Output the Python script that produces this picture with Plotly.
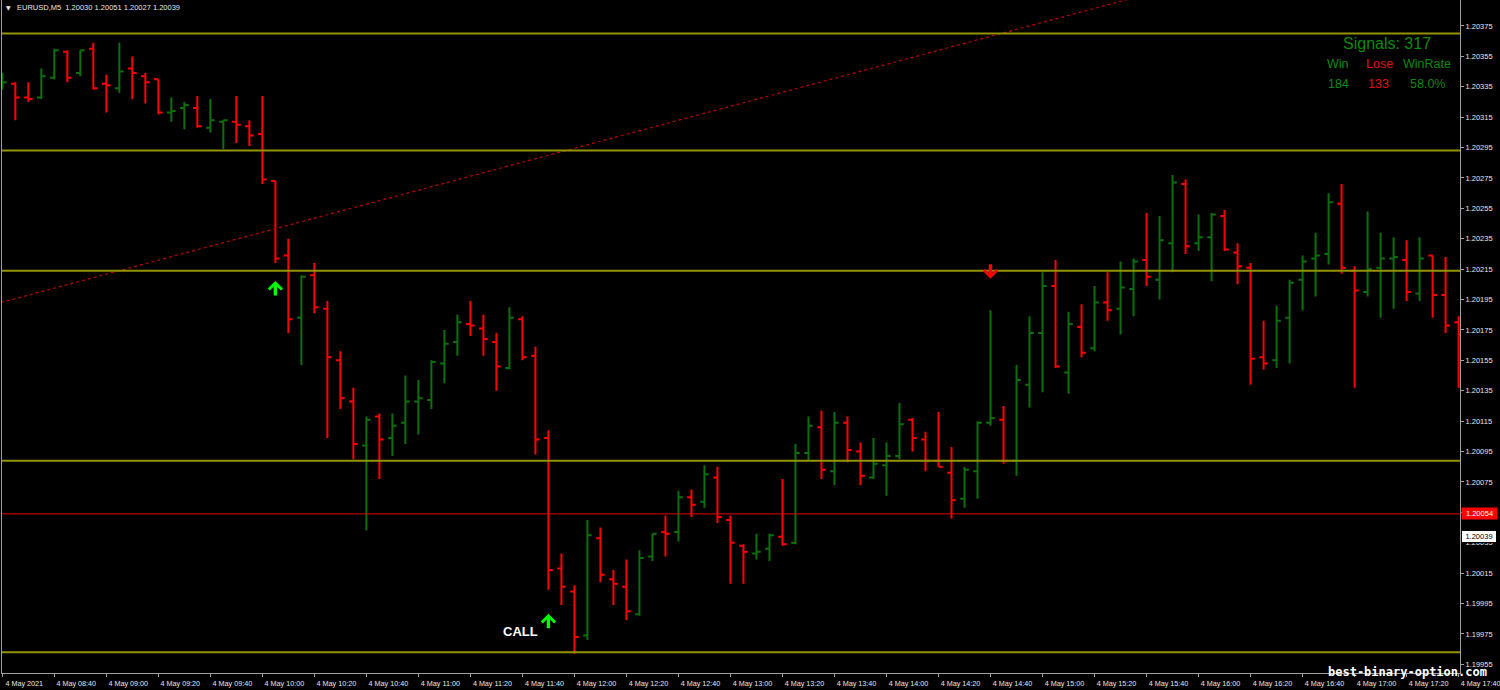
import pandas as pd
import plotly.graph_objects as go

# ---------------- data ----------------
bar_times = pd.date_range("2021-05-04 08:20", "2021-05-04 17:40", freq="5min")

opens = [
    1.20334, 1.20337, 1.20328, 1.20328, 1.20341, 1.20358, 1.20344, 1.20360, 1.20337, 1.20334,
    1.20347, 1.20342, 1.20340, 1.20318, 1.20321, 1.20321, 1.20308, 1.20312, 1.20312, 1.20309,
    1.20304, 1.20273, 1.20224, 1.20183, 1.20211, 1.20189, 1.20155, 1.20128, 1.20099, 1.20118,
    1.20104, 1.20114, 1.20128, 1.20129, 1.20153, 1.20167, 1.20179, 1.20176, 1.20167, 1.20150,
    1.20182, 1.20158, 1.20104, 1.20018, 1.20003, 1.19974, 1.20038, 1.20011, 1.20006, 1.19988,
    1.20026, 1.20042, 1.20042, 1.20065, 1.20062, 1.20078, 1.20050, 1.20033, 1.20028, 1.20031,
    1.20039, 1.20035, 1.20094, 1.20111, 1.20082, 1.20114, 1.20095, 1.20078, 1.20086, 1.20092,
    1.20116, 1.20103, 1.20089, 1.20081, 1.20064, 1.20082, 1.20114, 1.20116, 1.20089, 1.20139,
    1.20173, 1.20204, 1.20147, 1.20177, 1.20163, 1.20193, 1.20189, 1.20202, 1.20221, 1.20208,
    1.20232, 1.20271, 1.20232, 1.20236, 1.20250, 1.20226, 1.20216, 1.20157, 1.20155, 1.20183,
    1.20208, 1.20222, 1.20225, 1.20258, 1.20214, 1.20200, 1.20216, 1.20222, 1.20221, 1.20199,
    1.20224, 1.20198, 1.20180,
]
highs = [
    1.20344, 1.20338, 1.20338, 1.20347, 1.20360, 1.20359, 1.20359, 1.20364, 1.20343, 1.20364,
    1.20355, 1.20344, 1.20340, 1.20328, 1.20325, 1.20329, 1.20327, 1.20313, 1.20329, 1.20313,
    1.20329, 1.20273, 1.20235, 1.20211, 1.20219, 1.20194, 1.20161, 1.20137, 1.20118, 1.20120,
    1.20120, 1.20145, 1.20142, 1.20155, 1.20175, 1.20185, 1.20194, 1.20185, 1.20173, 1.20190,
    1.20184, 1.20164, 1.20109, 1.20028, 1.20007, 1.20050, 1.20045, 1.20017, 1.20024, 1.20030,
    1.20041, 1.20053, 1.20069, 1.20070, 1.20086, 1.20085, 1.20053, 1.20034, 1.20041, 1.20041,
    1.20077, 1.20100, 1.20118, 1.20122, 1.20121, 1.20118, 1.20101, 1.20104, 1.20101, 1.20127,
    1.20117, 1.20108, 1.20121, 1.20098, 1.20085, 1.20115, 1.20188, 1.20125, 1.20152, 1.20184,
    1.20213, 1.20221, 1.20187, 1.20192, 1.20204, 1.20213, 1.20220, 1.20222, 1.20252, 1.20250,
    1.20277, 1.20274, 1.20251, 1.20252, 1.20254, 1.20232, 1.20219, 1.20181, 1.20191, 1.20208,
    1.20224, 1.20239, 1.20265, 1.20271, 1.20217, 1.20253, 1.20239, 1.20236, 1.20234, 1.20236,
    1.20224, 1.20223, 1.20184,
]
lows = [
    1.20333, 1.20313, 1.20325, 1.20327, 1.20340, 1.20338, 1.20342, 1.20333, 1.20318, 1.20331,
    1.20327, 1.20324, 1.20317, 1.20312, 1.20307, 1.20308, 1.20305, 1.20294, 1.20298, 1.20296,
    1.20271, 1.20219, 1.20173, 1.20152, 1.20186, 1.20104, 1.20123, 1.20090, 1.20043, 1.20077,
    1.20092, 1.20100, 1.20106, 1.20123, 1.20140, 1.20158, 1.20171, 1.20158, 1.20135, 1.20149,
    1.20155, 1.20093, 1.20004, 1.19994, 1.19962, 1.19971, 1.20009, 1.19994, 1.19984, 1.19987,
    1.20023, 1.20026, 1.20036, 1.20052, 1.20058, 1.20048, 1.20008, 1.20008, 1.20024, 1.20023,
    1.20033, 1.20034, 1.20089, 1.20077, 1.20073, 1.20088, 1.20073, 1.20077, 1.20066, 1.20090,
    1.20095, 1.20082, 1.20085, 1.20051, 1.20058, 1.20064, 1.20112, 1.20087, 1.20079, 1.20124,
    1.20134, 1.20150, 1.20133, 1.20157, 1.20161, 1.20181, 1.20172, 1.20184, 1.20204, 1.20195,
    1.20213, 1.20225, 1.20227, 1.20207, 1.20227, 1.20205, 1.20139, 1.20149, 1.20150, 1.20153,
    1.20188, 1.20197, 1.20218, 1.20212, 1.20137, 1.20197, 1.20183, 1.20189, 1.20194, 1.20194,
    1.20183, 1.20173, 1.20137,
]
closes = [
    1.20338, 1.20328, 1.20327, 1.20342, 1.20359, 1.20341, 1.20359, 1.20334, 1.20336, 1.20345,
    1.20344, 1.20338, 1.20318, 1.20319, 1.20323, 1.20309, 1.20313, 1.20313, 1.20310, 1.20303,
    1.20274, 1.20222, 1.20182, 1.20210, 1.20190, 1.20157, 1.20130, 1.20100, 1.20116, 1.20103,
    1.20112, 1.20128, 1.20130, 1.20154, 1.20166, 1.20180, 1.20178, 1.20169, 1.20151, 1.20183,
    1.20157, 1.20103, 1.20017, 1.20006, 1.19973, 1.20040, 1.20014, 1.20008, 1.19990, 1.20025,
    1.20041, 1.20041, 1.20065, 1.20060, 1.20080, 1.20052, 1.20035, 1.20029, 1.20029, 1.20040,
    1.20034, 1.20094, 1.20112, 1.20083, 1.20114, 1.20096, 1.20079, 1.20087, 1.20092, 1.20113,
    1.20104, 1.20089, 1.20085, 1.20063, 1.20083, 1.20114, 1.20117, 1.20089, 1.20142, 1.20173,
    1.20204, 1.20151, 1.20179, 1.20160, 1.20193, 1.20188, 1.20203, 1.20220, 1.20210, 1.20234,
    1.20272, 1.20230, 1.20236, 1.20251, 1.20228, 1.20217, 1.20156, 1.20153, 1.20181, 1.20206,
    1.20220, 1.20224, 1.20259, 1.20216, 1.20201, 1.20215, 1.20222, 1.20223, 1.20200, 1.20222,
    1.20198, 1.20178, 1.20172,
]

level_prices = [1.20370, 1.20293, 1.20214, 1.20089, 1.19963]
stop_price = 1.20054
bid_price = 1.20039
trend_times = ["2021-05-04 08:15", "2021-05-04 16:00"]
trend_prices = [1.20191, 1.20405]
call_times = ["2021-05-04 10:05", "2021-05-04 11:50"]
call_prices = [1.20202, 1.19983]
put_times = ["2021-05-04 14:40"]
put_prices = [1.20214]

tick_times = [
    "2021-05-04 08:20", "2021-05-04 08:40", "2021-05-04 09:00", "2021-05-04 09:20",
    "2021-05-04 09:40", "2021-05-04 10:00", "2021-05-04 10:20", "2021-05-04 10:40",
    "2021-05-04 11:00", "2021-05-04 11:20", "2021-05-04 11:40", "2021-05-04 12:00",
    "2021-05-04 12:20", "2021-05-04 12:40", "2021-05-04 13:00", "2021-05-04 13:20",
    "2021-05-04 13:40", "2021-05-04 14:00", "2021-05-04 14:20", "2021-05-04 14:40",
    "2021-05-04 15:00", "2021-05-04 15:20", "2021-05-04 15:40", "2021-05-04 16:00",
    "2021-05-04 16:20", "2021-05-04 16:40", "2021-05-04 17:00", "2021-05-04 17:20",
    "2021-05-04 17:40",
]
tick_labels = [
    "4 May 2021", "4 May 08:40", "4 May 09:00", "4 May 09:20", "4 May 09:40",
    "4 May 10:00", "4 May 10:20", "4 May 10:40", "4 May 11:00", "4 May 11:20",
    "4 May 11:40", "4 May 12:00", "4 May 12:20", "4 May 12:40", "4 May 13:00",
    "4 May 13:20", "4 May 13:40", "4 May 14:00", "4 May 14:20", "4 May 14:40",
    "4 May 15:00", "4 May 15:20", "4 May 15:40", "4 May 16:00", "4 May 16:20",
    "4 May 16:40", "4 May 17:00", "4 May 17:20", "4 May 17:40",
]

header_text = "EURUSD,M5  1.20030 1.20051 1.20027 1.20039"
signals_total = 317
wins = 184
losses = 133
win_rate = "58.0%"
watermark = "best-binary-option.com"

# ---------------- style ----------------
W, H = 1500, 690
ML, MR, MT, MB = 2, 37, 0, 17
PW, PH = W - ML - MR, H - MT - MB

BULL = "#0b700b"
BEAR = "#ff0000"
LEVEL = "#949400"
AXIS = "#a0a0a0"
TXT = "#e6e6e6"
GREEN_TXT = "#0d8a0d"
RED_TXT = "#e01010"
FONT = "Liberation Sans"


def px(x):
    return (x - ML) / PW


def py(y):
    return 1 - (y - MT) / PH


fig = go.Figure()

fig.add_trace(go.Ohlc(
    x=bar_times, open=opens, high=highs, low=lows, close=closes,
    increasing=dict(line=dict(color=BULL, width=2)),
    decreasing=dict(line=dict(color=BEAR, width=2)),
    tickwidth=0.33, hoverinfo="skip", showlegend=False,
))

fig.add_trace(go.Scatter(
    x=pd.to_datetime(trend_times), y=trend_prices, mode="lines",
    line=dict(color="#c00000", width=1.2, dash="3px,3px"),
    hoverinfo="skip", showlegend=False,
))

shapes = []
for lv in level_prices:
    shapes.append(dict(type="line", xref="paper", x0=0, x1=1, yref="y", y0=lv, y1=lv,
                       line=dict(color=LEVEL, width=2), layer="above"))
shapes.append(dict(type="line", xref="paper", x0=0, x1=1, yref="y", y0=stop_price, y1=stop_price,
                   line=dict(color="#e00000", width=1), layer="above"))

annotations = []
# signal arrows (up = CALL, down = PUT), drawn as thick chevron arrows
for t, p in zip(call_times, call_prices):
    annotations.append(dict(
        xref="x", yref="y", x=pd.Timestamp(t), y=p, text="", showarrow=True,
        ax=0, ay=16, yshift=8, arrowhead=4, arrowwidth=3.4, arrowsize=0.75,
        arrowcolor="#00ff00"))
for t, p in zip(put_times, put_prices):
    annotations.append(dict(
        xref="x", yref="y", x=pd.Timestamp(t), y=p, text="", showarrow=True,
        ax=0, ay=-16, yshift=-8, arrowhead=4, arrowwidth=3.4, arrowsize=0.75,
        arrowcolor="#ff0000"))

annotations += [
    dict(xref="paper", yref="paper", x=px(8.5), y=py(8), text="▼", showarrow=False,
         xanchor="center", yanchor="middle", font=dict(family="DejaVu Sans", size=6, color=TXT)),
    dict(xref="paper", yref="paper", x=px(15), y=py(8), text=header_text, showarrow=False,
         xanchor="left", yanchor="middle", font=dict(family=FONT, size=7.5, color=TXT)),
    dict(xref="paper", yref="paper", x=px(1390), y=py(44), text=f"Signals: {signals_total}",
         showarrow=False, xanchor="center", yanchor="middle",
         font=dict(family=FONT, size=16, color=GREEN_TXT)),
    dict(xref="paper", yref="paper", x=px(1341), y=py(63.5), text="Win", showarrow=False,
         xanchor="center", yanchor="middle", font=dict(family=FONT, size=12.5, color=GREEN_TXT)),
    dict(xref="paper", yref="paper", x=px(1382), y=py(63.5), text="Lose", showarrow=False,
         xanchor="center", yanchor="middle", font=dict(family=FONT, size=12.5, color=RED_TXT)),
    dict(xref="paper", yref="paper", x=px(1430), y=py(63.5), text="WinRate", showarrow=False,
         xanchor="center", yanchor="middle", font=dict(family=FONT, size=12.5, color=GREEN_TXT)),
    dict(xref="paper", yref="paper", x=px(1341), y=py(84), text=str(wins), showarrow=False,
         xanchor="center", yanchor="middle", font=dict(family=FONT, size=12.5, color=GREEN_TXT)),
    dict(xref="paper", yref="paper", x=px(1381.5), y=py(84), text=str(losses), showarrow=False,
         xanchor="center", yanchor="middle", font=dict(family=FONT, size=12.5, color=RED_TXT)),
    dict(xref="paper", yref="paper", x=px(1430), y=py(84), text=win_rate, showarrow=False,
         xanchor="center", yanchor="middle", font=dict(family=FONT, size=12.5, color=GREEN_TXT)),
    dict(xref="x", yref="y", x=pd.Timestamp(call_times[1]), y=call_prices[1], text="<b>CALL</b>",
         showarrow=False, xanchor="center", yanchor="middle", xshift=-28, yshift=-10,
         font=dict(family=FONT, size=13, color="#ffffff")),
    dict(xref="paper", yref="paper", x=px(1410), y=py(672), text=f"<b>{watermark}</b>",
         showarrow=False, xanchor="center", yanchor="middle",
         font=dict(family="DejaVu Sans Mono", size=12, color="#ffffff")),
    dict(xref="paper", yref="y", x=1, y=stop_price, text=f"{stop_price:.5f}", showarrow=False,
         xanchor="left", yanchor="middle", xshift=1, bgcolor="#ff0000", borderpad=1, width=33,
         font=dict(family=FONT, size=7.5, color="#ffffff")),
    dict(xref="paper", yref="y", x=1, y=bid_price, text=f"{bid_price:.5f}", showarrow=False,
         xanchor="left", yanchor="middle", xshift=1, bgcolor="#ffffff", bordercolor="#000000",
         borderwidth=1, borderpad=1, width=32, font=dict(family=FONT, size=7.5, color="#000000")),
]

fig.update_layout(
    width=W, height=H, margin=dict(l=ML, r=MR, t=MT, b=MB),
    paper_bgcolor="#000000", plot_bgcolor="#000000",
    showlegend=False, hovermode=False,
    shapes=shapes, annotations=annotations,
    xaxis=dict(
        type="date", range=["2021-05-04 08:19:53", "2021-05-04 17:40:32"],
        rangeslider=dict(visible=False), showgrid=False, zeroline=False,
        showline=True, linecolor=AXIS, linewidth=1,
        tickmode="array", tickvals=pd.to_datetime(tick_times), ticktext=tick_labels,
        ticks="outside", ticklen=3, tickcolor=AXIS, tickangle=0,
        ticklabelshift=22, ticklabelstandoff=0, ticklabeloverflow="allow",
        tickfont=dict(family=FONT, size=7.2, color=TXT),
    ),
    yaxis=dict(
        side="right", range=[1.199493, 1.203921], showgrid=False, zeroline=False,
        showline=True, linecolor=AXIS, linewidth=1, mirror=True,
        tick0=1.19955, dtick=0.0002, tickformat=".5f",
        ticks="outside", ticklen=3, tickcolor=AXIS,
        tickfont=dict(family=FONT, size=7.5, color=TXT),
    ),
)

fig.write_html(
    "out.html",
    config={"displayModeBar": False},
    post_script="document.body.style.margin='0';document.body.style.overflow='hidden';",
)
